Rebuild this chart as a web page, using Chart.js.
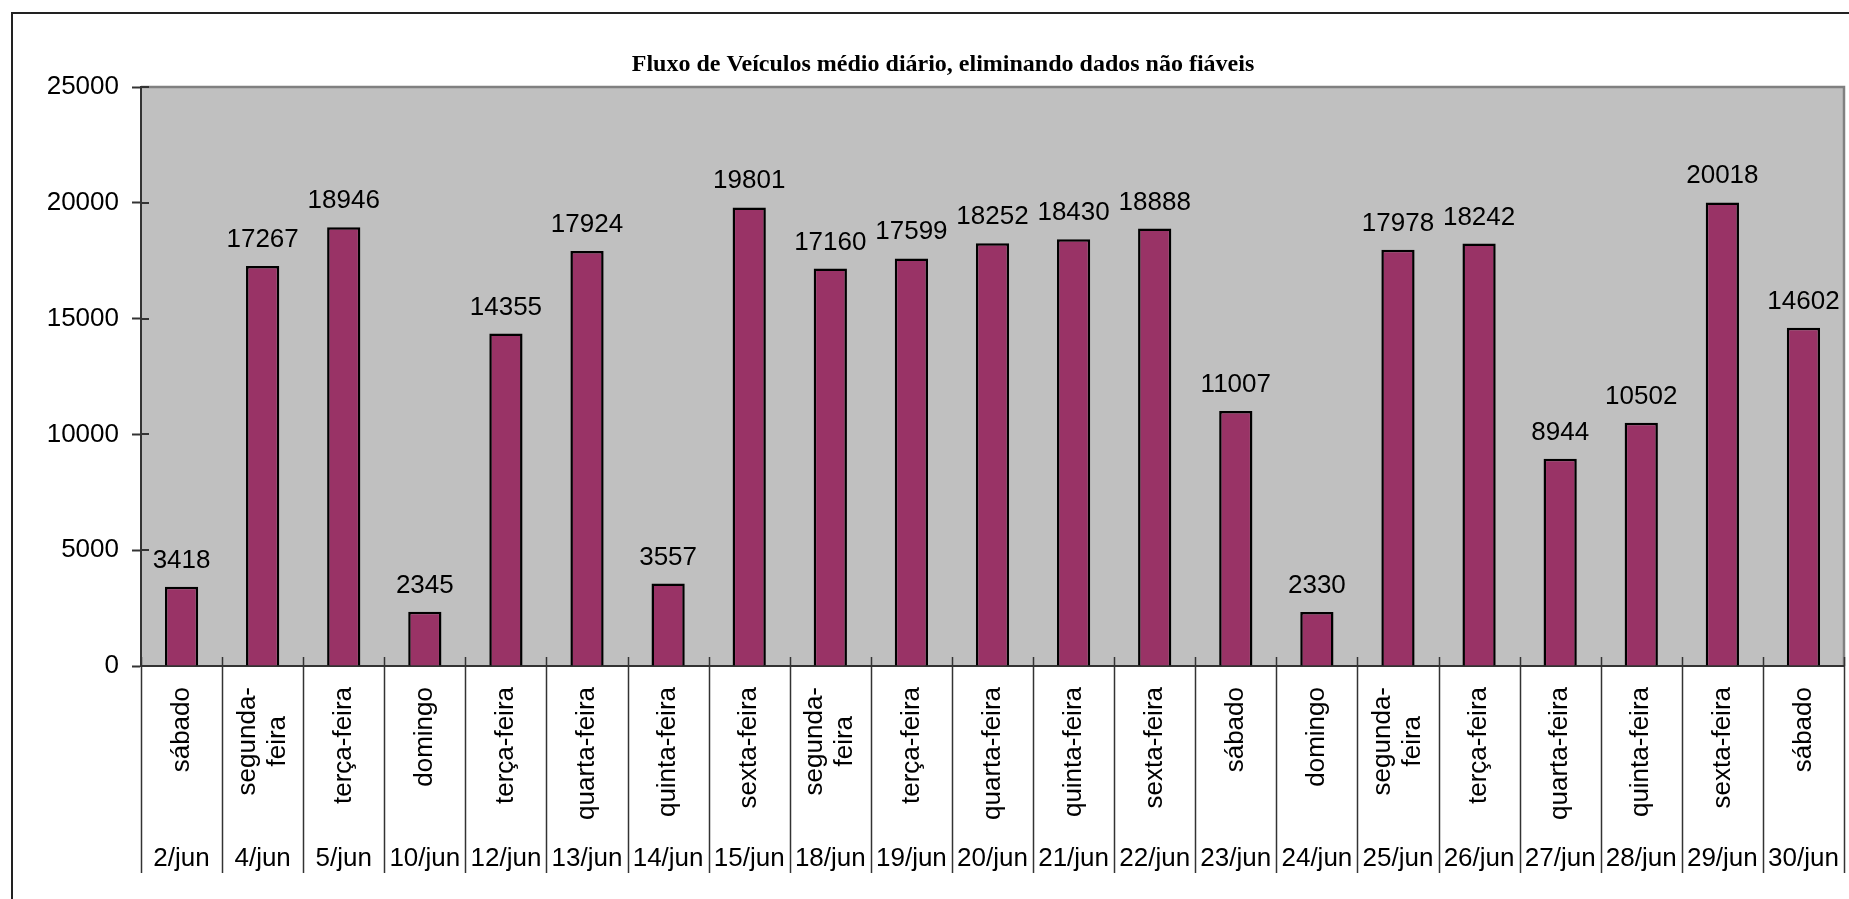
<!DOCTYPE html>
<html>
<head>
<meta charset="utf-8">
<script src="https://cdn.jsdelivr.net/npm/chart.js@4/dist/chart.umd.min.js"></script>
<style>
  html, body { margin: 0; padding: 0; background: #fff; }
  #wrap { width: 1849px; height: 899px; position: relative; }
</style>
</head>
<body>
<div id="wrap"><canvas id="chart"></canvas></div>
<script>
const TITLE = 'Fluxo de Veículos médio diário, eliminando dados não fiáveis';

const dates = ['2/jun', '4/jun', '5/jun', '10/jun', '12/jun', '13/jun', '14/jun', '15/jun',
    '18/jun', '19/jun', '20/jun', '21/jun', '22/jun', '23/jun', '24/jun', '25/jun',
    '26/jun', '27/jun', '28/jun', '29/jun', '30/jun'];

const weekdays = [['sábado'], ['segunda-', 'feira'], ['terça-feira'], ['domingo'], ['terça-feira'],
    ['quarta-feira'], ['quinta-feira'], ['sexta-feira'], ['segunda-', 'feira'], ['terça-feira'],
    ['quarta-feira'], ['quinta-feira'], ['sexta-feira'], ['sábado'], ['domingo'],
    ['segunda-', 'feira'], ['terça-feira'], ['quarta-feira'], ['quinta-feira'], ['sexta-feira'], ['sábado']];

const flows = [3418, 17267, 18946, 2345, 14355, 17924, 3557, 19801, 17160, 17599, 18252,
    18430, 18888, 11007, 2330, 17978, 18242, 8944, 10502, 20018, 14602];

const yTicks = [0, 5000, 10000, 15000, 20000, 25000];

const SANS = '"Liberation Sans", Arial, sans-serif';
const SERIF = '"Liberation Serif", "Times New Roman", serif';
const AXIS = '#333';

// --- Drawing helpers (frame, plot background, category labels, value labels) ---

const decor = {
    id: 'decor',
    beforeDraw(chart) {
        const { ctx, chartArea: a } = chart;
        ctx.save();
        // outer frame (runs off the right and bottom edges like the original)
        ctx.strokeStyle = '#222';
        ctx.lineWidth = 2;
        ctx.strokeRect(12, 13, chart.width + 40, chart.height + 40);
        // plot area
        ctx.fillStyle = '#C0C0C0';
        ctx.fillRect(a.left, a.top, a.right - a.left, a.bottom - a.top);
        ctx.strokeStyle = '#808080';
        ctx.lineWidth = 2.5;
        ctx.beginPath();
        ctx.moveTo(a.left, a.top);
        ctx.lineTo(a.right, a.top);
        ctx.lineTo(a.right, a.bottom);
        ctx.stroke();
        ctx.restore();
    },
    afterDraw(chart) {
        const { ctx, chartArea: a } = chart;
        const x = chart.scales.x;
        const y = chart.scales.y;
        const half = (x.getPixelForValue(1) - x.getPixelForValue(0)) / 2;
        ctx.save();

        // title
        ctx.fillStyle = '#000';
        ctx.font = 'bold 24px ' + SERIF;
        ctx.textAlign = 'center';
        ctx.textBaseline = 'alphabetic';
        ctx.fillText(TITLE, 943, 71);

        // inner half of the cross tick marks on the value axis
        ctx.strokeStyle = AXIS;
        ctx.lineWidth = 2;
        yTicks.forEach(v => {
            const py = Math.round(y.getPixelForValue(v));
            ctx.beginPath();
            ctx.moveTo(a.left, py);
            ctx.lineTo(a.left + 8, py);
            ctx.stroke();
        });

        // category dividers
        ctx.lineWidth = 1.5;
        for (let i = 0; i <= dates.length; i++) {
            const px = Math.round(x.getPixelForValue(i) - half) + 0.5;
            ctx.beginPath();
            ctx.moveTo(px, a.bottom - 9);
            ctx.lineTo(px, 873);
            ctx.stroke();
        }

        // dates
        ctx.font = '26px ' + SANS;
        ctx.textAlign = 'center';
        ctx.textBaseline = 'alphabetic';
        dates.forEach((d, i) => ctx.fillText(d, x.getPixelForValue(i), 866));

        // weekday names, rotated, block ending just under the axis
        ctx.textBaseline = 'middle';
        weekdays.forEach((lines, i) => {
            const w = Math.max(...lines.map(l => ctx.measureText(l).width));
            ctx.save();
            ctx.translate(x.getPixelForValue(i), 687 + w / 2);
            ctx.rotate(-Math.PI / 2);
            lines.forEach((l, k) => {
                ctx.fillText(l, 0, (k - (lines.length - 1) / 2) * 30);
            });
            ctx.restore();
        });

        // value labels above bars
        ctx.textBaseline = 'alphabetic';
        chart.getDatasetMeta(0).data.forEach((bar, i) => {
            ctx.fillText(String(flows[i]), bar.x, bar.y - 19);
        });

        ctx.restore();
    }
};

new Chart(document.getElementById('chart'), {
    type: 'bar',
    data: {
        labels: dates,
        datasets: [{
            data: flows,
            backgroundColor: '#993366',
            borderColor: '#000',
            borderWidth: 2.5,
            barPercentage: 0.41,
            categoryPercentage: 1
        }]
    },
    options: {
        responsive: true,
        maintainAspectRatio: false,
        animation: false,
        layout: { padding: { top: 87, right: 5, bottom: 0, left: 0 } },
        plugins: {
            legend: { display: false },
            tooltip: { enabled: false },
            title: { display: false }
        },
        scales: {
            x: {
                ticks: { display: false },
                grid: { display: false },
                border: { color: AXIS, width: 2 },
                afterFit(s) { s.height = 233; }
            },
            y: {
                min: 0,
                max: 25000,
                ticks: {
                    stepSize: 5000,
                    color: '#000',
                    font: { family: SANS, size: 26 },
                    padding: 13,
                    callback: v => String(v)
                },
                grid: {
                    drawOnChartArea: false,
                    drawTicks: true,
                    tickLength: 9,
                    tickWidth: 2,
                    color: AXIS
                },
                border: { color: AXIS, width: 2 },
                afterFit(s) { s.width = 141; }
            }
        }
    },
    plugins: [decor]
});
</script>
</body>
</html>
